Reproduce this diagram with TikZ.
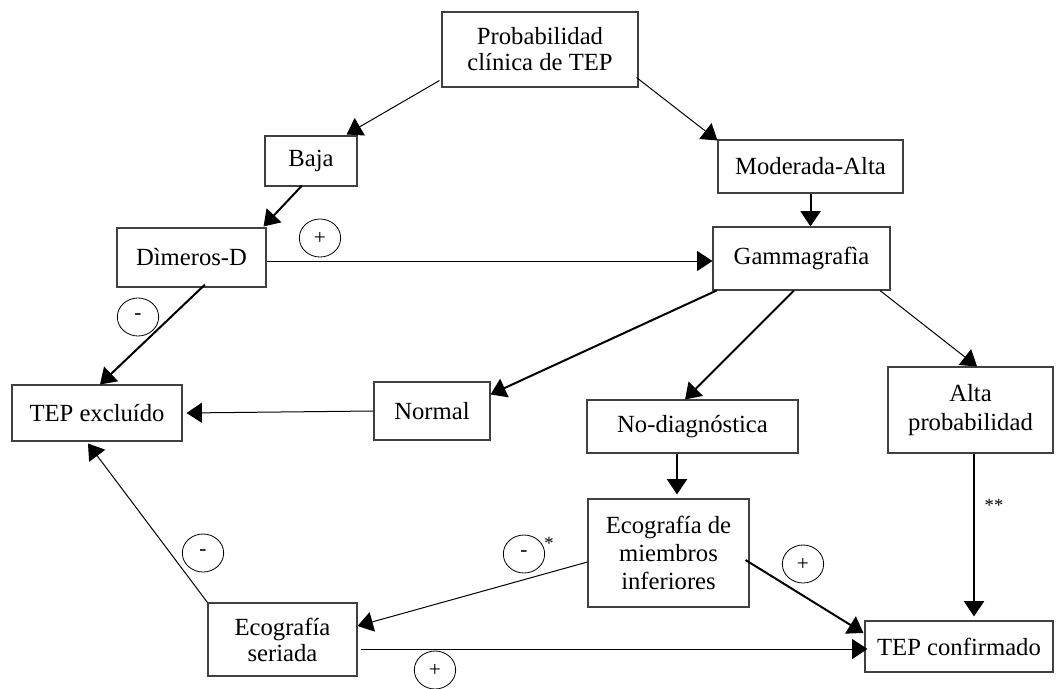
\documentclass[tikz,border=0pt]{standalone}
\usepackage{fontspec}
\setmainfont{Liberation Serif}
\usetikzlibrary{arrows.meta,calc,shapes.geometric}
\begin{document}
\begin{tikzpicture}[x=0.75pt,y=-0.75pt,
 box/.style={draw=black!75,line width=0.8pt,rectangle,inner sep=0pt,align=center,font=\fontsize{18.5}{19.5}\selectfont},
 conn/.style={line width=0.75pt,-{Triangle[length=11.5pt,width=15pt]}},
 connb/.style={line width=1.5pt,-{Triangle[length=11.5pt,width=15pt]}},
 sign/.style={draw=black,line width=0.6pt,ellipse,inner sep=0pt,minimum width=31pt,minimum height=28.5pt,font=\fontsize{16}{17}\selectfont},
 note/.style={font=\fontsize{14}{15}\selectfont,inner sep=0pt}]
\useasboundingbox[fill=white] (0,0) rectangle (1057,689);

% boxes
\node[box,minimum width=147pt,minimum height=56.25pt] (prob) at (540,49.5) {Probabilidad\\clínica de TEP};
\node[box,minimum width=69pt,minimum height=37.5pt] (baja) at (311,161) {Baja};
\node[box,minimum width=138.75pt,minimum height=39.75pt] (mod) at (810.5,166.5) {Moderada-Alta};
\node[box,minimum width=111.75pt,minimum height=44.25pt] (dim) at (191.5,257.5) {Dìmeros-D};
\node[box,minimum width=132.75pt,minimum height=47.25pt] (gam) at (801.5,258.5) {Gammagrafìa};
\node[box,minimum width=127.5pt,minimum height=42pt] (excl) at (97,413) {TEP excluído};
\node[box,minimum width=87pt,minimum height=43.5pt] (normal) at (432,411) {Normal};
\node[box,minimum width=158.25pt,minimum height=39.75pt] (nodiag) at (692.5,426.5) {No-diagnóstica};
\node[box,minimum width=123.75pt,minimum height=64.5pt,font=\fontsize{18.5}{22}\selectfont] (alta) at (970.5,410) {Alta\\probabilidad};
\node[box,minimum width=120.75pt,minimum height=81pt,font=\fontsize{18.5}{21}\selectfont] (eco) at (668.5,553) {Ecografía de\\miembros\\inferiores};
\node[box,minimum width=111.75pt,minimum height=54.75pt] (seriada) at (282.5,639.5) {Ecografía\\seriada};
\node[box,minimum width=141pt,minimum height=38.25pt] (conf) at (959,646.5) {TEP confirmado};

% sign labels
\node[sign] (p1) at (320,238) {+};
\node[sign] (m1) at (138,317) {-};
\node[sign] (m2) at (203,553) {-};
\node[sign] (m3) at (524,554) {-};
\node[note] (st1) at (549,543) {*};
\node[sign] (p2) at (803,564) {+};
\node[sign] (p3) at (435,670) {+};
\node[note] (st2) at (994,505) {**};

% connectors
\draw[conn] ($(prob.south west)+(-2,-7)$) -- ($(baja.north east)+(-11,-1)$);
\draw[conn] ($(prob.south east)+(-2,-10)$) -- ($(mod.north west)+(0,1)$);
\draw[connb] ($(baja.south)+(-9,-1)$) -- ($(dim.north east)+(-3,-1)$);
\draw[connb] (mod.south) -- (mod.south |- gam.north);
\coordinate (d1) at ($(dim.east)+(0,3.5)$);
\draw[conn] (d1) -- (d1 -| gam.west);
\draw[connb] ($(dim.south)+(13.5,-3)$) -- ($(excl.north)+(3,0)$);
\draw[connb] ($(gam.south west)+(4,0)$) -- ($(normal.north east)+(0,13)$);
\draw[connb] ($(gam.south)+(-7.5,0)$) -- ($(nodiag.north)+(-7.5,0)$);
\draw[conn] ($(gam.south)+(78.5,0)$) -- ($(alta.north)+(6.5,0)$);
\draw[conn] (normal.west) -- ($(excl.east)+(4,0)$);
\coordinate (n1) at ($(nodiag.south)+(-15.5,0)$);
\draw[connb] (n1) -- ($(n1 |- eco.north)+(0,-4)$);
\coordinate (a1) at ($(alta.south)+(3.5,0)$);
\draw[connb] (a1) -- ($(a1 |- conf.north)+(0,-4)$);
\draw[connb] ($(eco.east)+(-4,7)$) -- ($(conf.west)+(-1,-13.5)$);
\draw[conn] ($(eco.west)+(0,9)$) -- ($(seriada.east)+(0,-13.5)$);
\coordinate (s1) at ($(seriada.east)+(3,9.5)$);
\draw[conn] (s1) -- ($(s1 -| conf.west)+(3,0)$);
\draw[conn] (seriada.north west) -- ($(excl.south)+(-9,2)$);
\end{tikzpicture}
\end{document}
